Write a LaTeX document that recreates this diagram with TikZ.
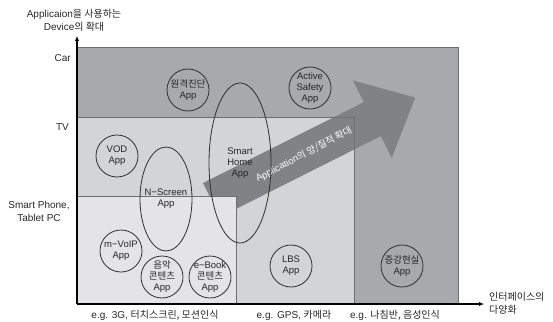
\documentclass[tikz,border=0pt]{standalone}
\usepackage{fontspec}
\setmainfont{Liberation Sans}
\newfontfamily\kr{Noto Sans CJK KR}
\usetikzlibrary{shapes.geometric,arrows.meta}
\newcommand{\kt}[1]{{\kr #1}}
\definecolor{outerg}{HTML}{A8A9AD}
\definecolor{tvg}{HTML}{D3D4D6}
\definecolor{phg}{HTML}{E4E4E6}
\definecolor{arrg}{HTML}{818286}
\definecolor{lineg}{HTML}{6E6F72}
\definecolor{circg}{HTML}{2F2F2F}
\tikzset{
  boxline/.style={draw=lineg, line width=0.8pt},
  axisline/.style={draw=black, line width=1.2pt, -{Latex[length=5pt,width=4.5pt]}},
  lbl/.style={font=\fontsize{10}{13}\selectfont, inner sep=0pt, align=center, text=black!85},
  appc/.style={circle, draw=circg, line width=0.8pt, minimum size=42pt, inner sep=0pt},
  appe/.style={ellipse, draw=circg, line width=0.8pt, inner sep=0pt},
  apptext/.style={font=\fontsize{9.5}{11}\selectfont, inner sep=0pt, align=center, text=black!85},
  bigarrow/.style={fill=arrg},
  arrtext/.style={font=\fontsize{9.5}{12}\selectfont, text=white, inner sep=0pt}
}
\begin{document}
\begin{tikzpicture}[x=1pt,y=-1pt]
\useasboundingbox (0,0) rectangle (553,321);
% regions
\fill[outerg] (77,47) rectangle (458,304);
\fill[tvg] (77,117) rectangle (354,304);
% big arrow
\begin{scope}[shift={(211.5,200)}, rotate=26.7]
  \fill[bigarrow] (0,-19) -- (180,-19) -- (180,-43.4) -- (228,0) -- (180,43.4) -- (180,19) -- (0,19) -- cycle;
  \node[arrtext, rotate=27.5] (arrlabel) at (103,1) {Application\kt{의 양/질적 확대}};
\end{scope}
\fill[phg] (77,196) rectangle (236,304);
\draw[boxline] (77,47) -| (458,304);
\draw[boxline] (77,117) -| (354,304);
\draw[boxline] (77,196) -| (236,304);
% axes
\coordinate (O) at (77,304);
\coordinate (Ytop) at (77,36);
\coordinate (Xend) at (484,304);
\draw[axisline] (O) -- (Ytop);
\draw[axisline] (O) -- (Xend);
% axis labels
\node[lbl] (ylab) at (74,20.5) {Applicaion\kt{을 사용하는}\\Device\kt{의 확대}};
\node[lbl, anchor=east] (car) at (71,58) {Car};
\node[lbl, anchor=east] (tv) at (69,127) {TV};
\node[lbl] (phone) at (39,211) {Smart Phone,\\Tablet PC};
\node[lbl] (ex1) at (155,315) {e.g. 3G, \kt{터치스크린, 모션인식}};
\node[lbl] (ex2) at (294,315) {e.g. GPS, \kt{카메라}};
\node[lbl] (ex3) at (395,315) {e.g. \kt{나침반, 음성인식}};
\node[lbl, anchor=west, align=left] (xlab) at (489,303.5) {\kt{인터페이스의}\\\kt{다양화}};
% apps
\node[appc] (remote) at (188,90) {};
\node[apptext] (remote-t) at (remote) {\kt{원격진단}\\App};
\node[appc] (safety) at (310,88) {};
\node[apptext] (safety-t) at (safety) {Active\\Safety\\App};
\node[appc] (vod) at (117,156) {};
\node[apptext] (vod-t) at (vod) {VOD\\App};
\node[appe, minimum width=52pt, minimum height=104pt] (nscreen) at (166,199) {};
\node[apptext] (nscreen-t) at (nscreen) {N−Screen\\App};
\node[appe, minimum width=62pt, minimum height=160pt] (home) at (240,163) {};
\node[apptext] (home-t) at (home) {Smart\\Home\\App};
\node[appc] (voip) at (121,251) {};
\node[apptext] (voip-t) at (voip) {m−VoIP\\App};
\node[appc] (music) at (162,277) {};
\node[apptext] (music-t) at (music) {\kt{음악}\\\kt{콘텐츠}\\App};
\node[appc] (ebook) at (210,277) {};
\node[apptext] (ebook-t) at (ebook) {e−Book\\\kt{콘텐츠}\\App};
\node[appc] (lbs) at (291,266) {};
\node[apptext] (lbs-t) at (lbs) {LBS\\App};
\node[appc] (ar) at (402,266) {};
\node[apptext] (ar-t) at (ar) {\kt{증강현실}\\App};
\end{tikzpicture}
\end{document}
